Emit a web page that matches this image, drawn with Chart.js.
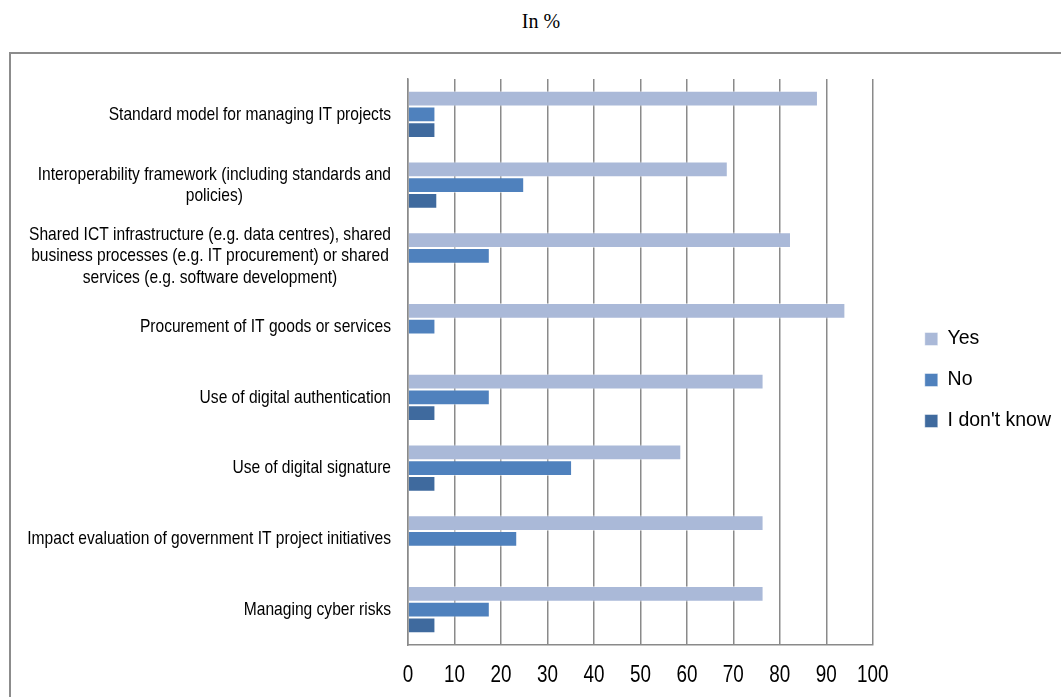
<!DOCTYPE html>
<html>
<head>
<meta charset="utf-8">
<script src="https://cdn.jsdelivr.net/npm/chart.js@4.4.1/dist/chart.umd.min.js"></script>
<style>
  html, body { margin: 0; padding: 0; width: 1061px; height: 697px; overflow: hidden; background: #fff; }
  #heading { position: absolute; left: 441px; top: 10px; width: 200px; text-align: center;
             font: 20px "Liberation Serif", "Times New Roman", serif; color: #000; }
  #frame { position: absolute; left: 9px; top: 52px; width: 1100px; height: 700px;
           border: 2px solid #8c8c8c; box-sizing: border-box; }
  #c { position: absolute; left: 0; top: 0; }
</style>
</head>
<body>
<div id="heading">In %</div>
<div id="frame"></div>
<canvas id="c" width="1061" height="697"></canvas>
<script>
// Survey items, one entry per row (each label is a list of its lines)
const categories = [
  ['Standard model for managing IT projects'],
  ['Interoperability framework (including standards and', 'policies)'],
  ['Shared ICT infrastructure (e.g. data centres), shared',
   'business processes (e.g. IT procurement) or shared',
   'services (e.g. software development)'],
  ['Procurement of IT goods or services'],
  ['Use of digital authentication'],
  ['Use of digital signature'],
  ['Impact evaluation of government IT project initiatives'],
  ['Managing cyber risks']
];

// Share of answers, in %
const yesValues       = [88.2, 68.8, 82.4, 94.1, 76.5, 58.8, 76.5, 76.5];
const noValues        = [5.9, 25.0, 17.6, 5.9, 17.6, 35.3, 23.5, 17.6];
const dontKnowValues  = [5.9, 6.3, null, null, 5.9, 5.9, null, 5.9];

const seriesNames  = ['Yes', 'No', "I don't know"];
const seriesColors = ['#aab9d8', '#4f81bd', '#3f6a9e'];

const xTickValues = [0, 10, 20, 30, 40, 50, 60, 70, 80, 90, 100];

const GRID = '#8a8a8a';
const SANS = '"Liberation Sans", Arial, sans-serif';
const CONDENSE = 0.82;   // horizontal squeeze for the narrow axis lettering

// Draws a line of condensed text centred on (x, y)
function condensedText(ctx, text, x, y) {
  ctx.save();
  ctx.translate(x, y);
  ctx.scale(CONDENSE, 1);
  ctx.fillText(text, 0, 0);
  ctx.restore();
}

// Axis lettering: row labels (right-aligned block, lines centred inside it)
// and the percentage ticks under the value axis
const axisLettering = {
  id: 'axisLettering',
  afterDraw(chart) {
    const ctx = chart.ctx;
    const yScale = chart.scales.y;
    const xScale = chart.scales.x;
    ctx.save();
    ctx.fillStyle = '#000';
    ctx.textAlign = 'center';
    ctx.textBaseline = 'middle';

    ctx.font = '19px ' + SANS;
    const right = yScale.right - 17;
    const lineHeight = 21.6;
    chart.data.labels.forEach((lines, i) => {
      const w = Math.max(...lines.map(l => ctx.measureText(l).width)) * CONDENSE;
      const cx = right - w / 2;
      const cy = yScale.getPixelForTick(i);
      lines.forEach((l, k) => {
        condensedText(ctx, l, cx, cy + (k - (lines.length - 1) / 2) * lineHeight);
      });
    });

    ctx.font = '23px ' + SANS;
    const ty = xScale.bottom + 31;
    xScale.ticks.forEach(t => {
      condensedText(ctx, String(t.value), xScale.getPixelForValue(t.value), ty);
    });
    ctx.restore();
  }
};

const seriesData = [yesValues, noValues, dontKnowValues];

new Chart(document.getElementById('c'), {
  type: 'bar',
  data: {
    labels: categories,
    datasets: seriesNames.map((name, i) => ({
      label: name,
      data: seriesData[i],
      backgroundColor: seriesColors[i],
      borderColor: 'rgba(255,255,255,0.45)',
      borderWidth: 1,
      categoryPercentage: 0.665,
      barPercentage: 1.0
    }))
  },
  options: {
    indexAxis: 'y',
    responsive: false,
    animation: false,
    layout: { padding: { top: 79, left: 0, right: 0, bottom: 52 } },
    scales: {
      x: {
        type: 'linear',
        position: 'bottom',
        min: 0,
        max: 100,
        afterBuildTicks: s => { s.ticks = xTickValues.map(v => ({ value: v })); },
        grid: { color: GRID, lineWidth: 1.5, drawTicks: false },
        border: { display: true, color: GRID, width: 1.5 },
        ticks: { display: false },
        afterFit: s => { s.height = 0; }
      },
      y: {
        type: 'category',
        position: 'left',
        grid: { display: false },
        border: { display: true, color: GRID, width: 1.5 },
        ticks: { display: false },
        afterFit: s => { s.width = 408; }
      },
      // empty spacer between the plot and the legend
      y2: {
        type: 'linear',
        axis: 'y',
        position: 'right',
        display: true,
        grid: { display: false },
        border: { display: false },
        ticks: { display: false },
        afterFit: s => { s.width = 30.5; }
      }
    },
    plugins: {
      legend: {
        position: 'right',
        fullSize: false,
        align: 'center',
        title: { display: true, text: '', padding: 12, font: { size: 10 } },
        labels: {
          boxWidth: 13,
          boxHeight: 13,
          padding: 21.5,
          color: '#000',
          font: { family: SANS, size: 19.5 }
        }
      },
      tooltip: { enabled: false }
    }
  },
  plugins: [axisLettering]
});
</script>
</body>
</html>
